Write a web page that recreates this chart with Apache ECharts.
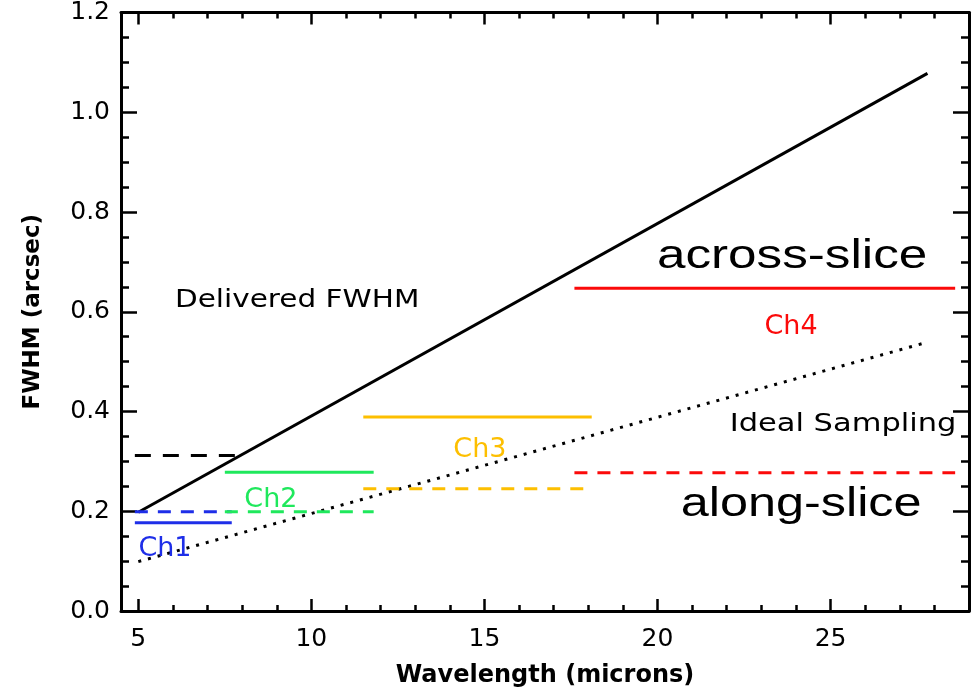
<!DOCTYPE html>
<html>
<head>
<meta charset="utf-8">
<script src="https://cdn.jsdelivr.net/npm/echarts@6/dist/echarts.min.js"></script>
<style>
  html, body { margin: 0; padding: 0; background: #fff; }
  #chart { width: 979px; height: 693px; }
</style>
</head>
<body>
<div id="chart"></div>
<script>
// Wavelength ends of the FWHM trend lines (microns)
const wavelength = [5, 27.8];
// Delivered FWHM and ideal (Nyquist) sampling, arcsec
const deliveredFwhm = [0.198, 1.078];
const idealSampling = [0.099, 0.539];

// Reference level drawn as a black dashed line at short wavelengths
const referenceRange = [4.9, 8.0];
const referenceFwhm = 0.312;

// Spectrometer channels: wavelength coverage and pixel scales (arcsec)
const channels = ['Ch1', 'Ch2', 'Ch3', 'Ch4'];
const chStart = [4.9, 7.5, 11.5, 17.6];
const chEnd = [7.7, 11.8, 18.1, 28.6];
const acrossSlice = [0.177, 0.278, 0.389, 0.647];
const alongSlice = [0.199, 0.199, 0.245, 0.277];

// Axis ticks
const xMajorTicks = [5, 10, 15, 20, 25];
const xMinorTicks = [5, 6, 7, 8, 9, 10, 11, 12, 13, 14, 15, 16, 17, 18, 19, 20, 21, 22, 23, 24, 25, 26, 27, 28];

const chColors = ['#1e2ee8', '#1fe85c', '#fdbf00', '#fb0a0a'];
const FONT = 'DejaVu Sans';

const chart = echarts.init(document.getElementById('chart'));

function xAxisDef(pos, ticks, len, labels, withLine, name) {
  return {
    type: 'value', position: pos, min: 4.5, max: 29,
    name: name || '', nameLocation: 'middle', nameGap: 53,
    nameTextStyle: { fontFamily: FONT, fontSize: 24, fontWeight: 'bold', color: '#000' },
    axisLine: { show: withLine, onZero: false, lineStyle: { color: '#000', width: 3 } },
    axisTick: { show: true, inside: true, length: len, customValues: ticks, lineStyle: { color: '#000', width: 2.5 } },
    axisLabel: labels ? { show: true, customValues: ticks, margin: 16, fontFamily: FONT, fontSize: 25, color: '#000' } : { show: false },
    splitLine: { show: false }
  };
}

function yAxisDef(pos, labels, name) {
  return {
    type: 'value', position: pos, min: 0, max: 1.2, interval: 0.2,
    name: name || '', nameLocation: 'middle', nameGap: 76,
    nameTextStyle: { fontFamily: FONT, fontSize: 23, fontWeight: 'bold', color: '#000' },
    axisLine: { show: true, onZero: false, lineStyle: { color: '#000', width: 3 } },
    axisTick: { show: true, inside: true, length: 16, lineStyle: { color: '#000', width: 2.5 } },
    minorTick: { show: true, splitNumber: 4, length: 8, lineStyle: { color: '#000', width: 2.5 } },
    axisLabel: labels ? { show: true, margin: 11, fontFamily: FONT, fontSize: 25, color: '#000', formatter: v => v.toFixed(1) } : { show: false },
    splitLine: { show: false }, minorSplitLine: { show: false }
  };
}

function seg(x0, x1, y0, y1) { return [[x0, y0], [x1, y1]]; }

function lineSeries(data, color, type, width) {
  return {
    type: 'line', xAxisIndex: 0, yAxisIndex: 0, data: data,
    symbol: 'none', silent: true, animation: false,
    lineStyle: { color: color, width: width || 3, type: type || 'solid', cap: 'butt' }
  };
}

const series = [
  lineSeries(seg(wavelength[0], wavelength[1], deliveredFwhm[0], deliveredFwhm[1]), '#000', 'solid', 3),
  lineSeries(seg(wavelength[0], wavelength[1], idealSampling[0], idealSampling[1]), '#000', [3, 7], 3),
  lineSeries(seg(referenceRange[0], referenceRange[1], referenceFwhm, referenceFwhm), '#000', [16, 12], 3)
];
channels.forEach((c, i) => {
  series.push(lineSeries(seg(chStart[i], chEnd[i], acrossSlice[i], acrossSlice[i]), chColors[i], 'solid', 3));
  series.push(lineSeries(seg(chStart[i], chEnd[i], alongSlice[i], alongSlice[i]), chColors[i], [13, 10], 3));
});

chart.setOption({
  animation: false,
  backgroundColor: '#fff',
  grid: { left: 121, right: 10, top: 10, bottom: 82, containLabel: false },
  xAxis: [
    xAxisDef('bottom', xMajorTicks, 12, true, true, 'Wavelength (microns)'),
    xAxisDef('bottom', xMinorTicks, 6, false, false),
    xAxisDef('top', xMajorTicks, 12, false, true),
    xAxisDef('top', xMinorTicks, 6, false, false)
  ],
  yAxis: [
    yAxisDef('left', true, 'FWHM (arcsec)'),
    yAxisDef('right', false)
  ],
  series: series
});

// Text annotations, anchored in data coordinates
const notes = [
  { text: 'Delivered FWHM', at: [9.59, 0.622], size: 25, sx: 1.18, color: '#000', font: FONT },
  { text: 'Ideal Sampling', at: [25.36, 0.374], size: 25, sx: 1.22, color: '#000', font: FONT },
  { text: 'across-slice', at: [23.89, 0.71], size: 40, sx: 1.28, color: '#000', font: 'Liberation Sans' },
  { text: 'along-slice', at: [24.15, 0.212], size: 40, sx: 1.26, color: '#000', font: 'Liberation Sans' }
];
channels.forEach((c, i) => {
  const pos = [[5.77, 0.124], [8.83, 0.222], [14.87, 0.322], [23.86, 0.57]][i];
  notes.push({ text: c, at: pos, size: 27, sx: 1.0, color: chColors[i], font: FONT });
});

chart.setOption({
  graphic: notes.map(n => {
    const p = chart.convertToPixel({ xAxisIndex: 0, yAxisIndex: 0 }, n.at);
    return {
      type: 'text', x: p[0], y: p[1], scaleX: n.sx, silent: true, z: 100,
      style: {
        text: n.text, font: n.size + 'px "' + n.font + '"', fill: n.color,
        align: 'center', verticalAlign: 'middle'
      }
    };
  })
});
</script>
</body>
</html>
